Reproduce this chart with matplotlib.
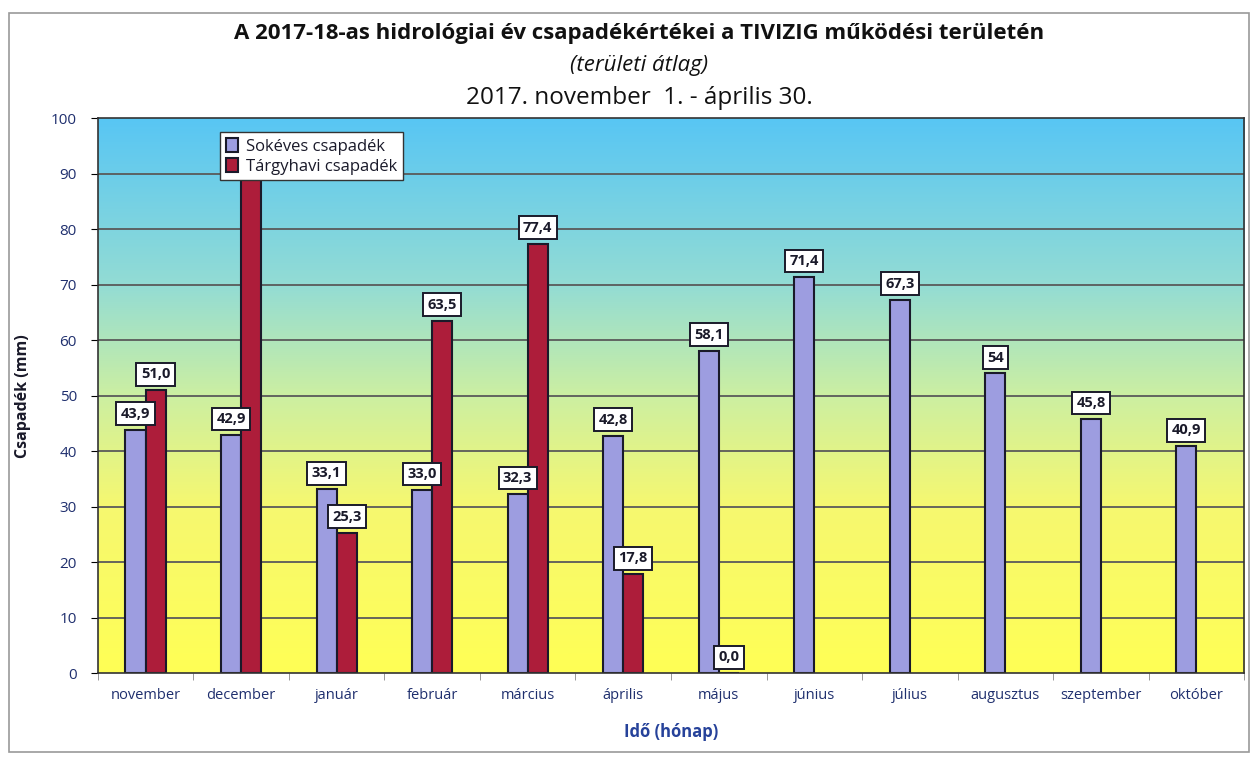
import numpy as np
import matplotlib.pyplot as plt
from matplotlib.colors import LinearSegmentedColormap
from matplotlib.patches import Rectangle

months = ["november", "december", "január", "február", "március", "április",
          "május", "június", "július", "augusztus", "szeptember", "október"]
sokeves = [43.9, 42.9, 33.1, 33.0, 32.3, 42.8, 58.1, 71.4, 67.3, 54, 45.8, 40.9]
sokeves_lbl = ["43,9", "42,9", "33,1", "33,0", "32,3", "42,8", "58,1", "71,4",
               "67,3", "54", "45,8", "40,9"]
targyhavi = [51.0, 90.0, 25.3, 63.5, 77.4, 17.8, 0.0]
# december label is hidden behind the legend in the original
targyhavi_lbl = ["51,0", "", "25,3", "63,5", "77,4", "17,8", "0,0"]

navy = "#1f2f6e"
fig = plt.figure(figsize=(12.53, 7.58), dpi=100)
plt.rcParams['font.family'] = ['Open Sans', 'DejaVu Sans']

# frame around the whole chart
fig.patches.append(Rectangle((0.007, 0.008), 0.99, 0.975, transform=fig.transFigure,
                             fill=False, edgecolor="#9a9a9a", lw=1.2))

ax = fig.add_axes([0.078, 0.112, 0.915, 0.732])
x = np.arange(len(months))
w = 0.21
ax.set_xlim(-0.5, len(months) - 0.5)
ax.set_ylim(0, 100)

# background gradient yellow -> light green -> sky blue
cmap = LinearSegmentedColormap.from_list("bg", [
    (0.0, "#ffff55"), (0.3, "#f6f870"), (0.5, "#ccefa2"),
    (0.7, "#93dcd4"), (1.0, "#58c6f4")])
grad = np.linspace(0, 1, 256).reshape(-1, 1)
ax.imshow(grad, extent=[-0.5, len(months) - 0.5, 0, 100], origin="lower",
          aspect="auto", cmap=cmap, zorder=0)

for v in range(10, 100, 10):
    ax.axhline(v, color="#5a5a5a", lw=1.3, zorder=1)

b1 = ax.bar(x - w / 2, sokeves, w, color="#9d9de0", edgecolor="#1a1a2a", lw=1.5,
            zorder=2, label="Sokéves csapadék")
b2 = ax.bar(x[:len(targyhavi)] + w / 2, targyhavi, w, color="#ad1d3a",
            edgecolor="#1a1a2a", lw=1.5, zorder=2, label="Tárgyhavi csapadék")

box = dict(boxstyle="square,pad=0.3", fc="white", ec="#1a1a2a", lw=1.4)
for bars, labels in [(b1, sokeves_lbl), (b2, targyhavi_lbl)]:
    for rect, lbl in zip(bars, labels):
        if not lbl:
            continue
        ax.annotate(lbl, (rect.get_x() + rect.get_width() / 2, rect.get_height()),
                    xytext=(0, 11.5), textcoords="offset points", ha="center",
                    va="center", fontsize=10.5, fontweight="bold", color="#1a1a2a",
                    bbox=box, zorder=3)

ax.set_yticks(range(0, 101, 10))
ax.tick_params(axis="y", length=5, labelsize=11, labelcolor=navy, pad=10)
ax.set_xticks(x)
ax.set_xticklabels(months, fontsize=10.5, color=navy)
ax.set_xticks(np.arange(-0.5, len(months), 1), minor=True)
ax.tick_params(axis="x", which="major", length=0, pad=11)
ax.tick_params(axis="x", which="minor", length=5, color="#888888")
for s in ax.spines.values():
    s.set_color("#333333")
    s.set_linewidth(1.2)

ax.set_ylabel("Csapadék (mm)", fontsize=11.5, fontweight="bold", color="#1a1a2a", labelpad=14)
ax.set_xlabel("Idő (hónap)", fontsize=12, fontweight="bold", color="#26429a", labelpad=14)

leg = ax.legend(loc="upper left", bbox_to_anchor=(0.107, 0.975), fancybox=False,
                framealpha=1, edgecolor="#333333", fontsize=12, handlelength=0.7,
                handleheight=0.9, handletextpad=0.5, borderpad=0.35, labelspacing=0.2,
                borderaxespad=0)
leg.set_zorder(5)
for t in leg.get_texts():
    t.set_color("#1a1a2a")

fig.text(0.51, 0.956, "A 2017-18-as hidrológiai év csapadékértékei a TIVIZIG működési területén",
         ha="center", va="center", fontsize=16, fontweight="bold", color="#111111")
fig.text(0.51, 0.913, "(területi átlag)", ha="center", va="center", fontsize=16,
         style="italic", color="#111111")
fig.text(0.51, 0.871, "2017. november  1. - április 30.", ha="center", va="center",
         fontsize=17.5, color="#111111")

fig.savefig("out.png", dpi=100)
